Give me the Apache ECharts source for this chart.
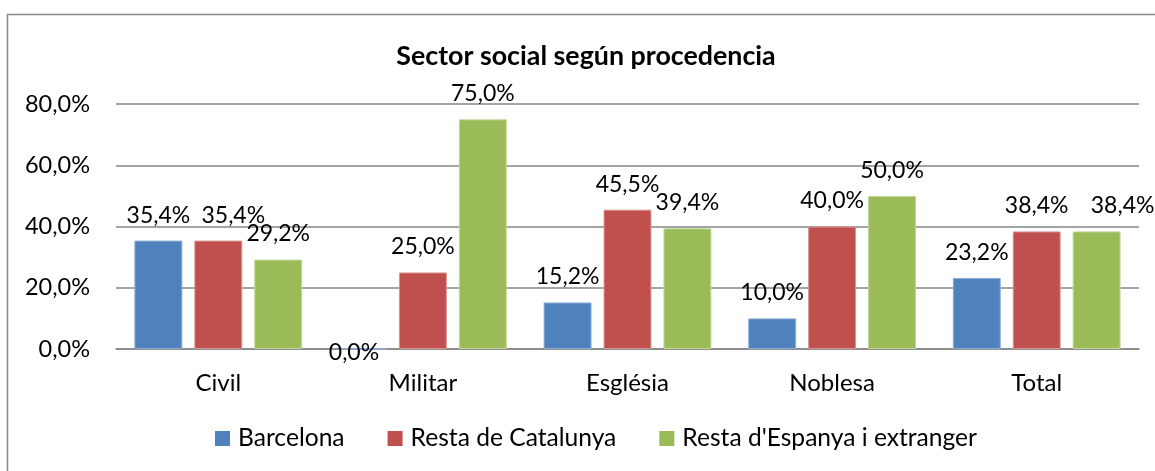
<!DOCTYPE html>
<html>
<head>
<meta charset="utf-8">
<script src="https://cdn.jsdelivr.net/npm/echarts@6/dist/echarts.min.js"></script>
<style>html,body{margin:0;padding:0;background:#fff}#c{width:1155px;height:471px}</style>
</head>
<body>
<div id="c"></div>
<script>
const categories = ['Civil', 'Militar', 'Església', 'Noblesa', 'Total'];
const seriesNames = ['Barcelona', 'Resta de Catalunya', "Resta d'Espanya i extranger"];
const barcelona = [35.4, 0.0, 15.2, 10.0, 23.2];
const restaCatalunya = [35.4, 25.0, 45.5, 40.0, 38.4];
const restaEspanya = [29.2, 75.0, 39.4, 50.0, 38.4];
const yTicks = [0, 20, 40, 60, 80];
const titleText = 'Sector social según procedencia';

const colors = ['#4F81BD', '#C0504D', '#9BBB59'];
const borders = ['#8FADD6', '#D99694', '#C3D69B'];
const FONT = 'Lato';
const fmt = v => v.toFixed(1).replace('.', ',') + '%';

// manual label nudges (as in the reference layout)
const labelOffsets = {
  '0-1': [-9, 30],
  '1-0': [15, 0],
  '2-4': [26, 0]
};

const allSeries = [barcelona, restaCatalunya, restaEspanya];
const series = allSeries.map((vals, si) => ({
  name: seriesNames[si],
  type: 'bar',
  barGap: '25%',
  barCategoryGap: '18%',
  itemStyle: { color: colors[si], borderColor: borders[si], borderWidth: 1 },
  label: {
    show: true, position: 'top', distance: 14,
    fontFamily: FONT, fontSize: 23, color: '#000',
    formatter: p => fmt(p.value)
  },
  data: vals.map((v, ci) => {
    const off = labelOffsets[si + '-' + ci];
    return off ? { value: v, label: { offset: off } } : v;
  })
}));

const chart = echarts.init(document.getElementById('c'), null, { renderer: 'canvas' });
chart.setOption({
  animation: false,
  backgroundColor: '#fff',
  color: colors,
  title: {
    text: titleText, left: 581, top: 38, textAlign: 'center',
    textStyle: { fontFamily: FONT, fontSize: 26.8, fontWeight: 'bold', color: '#000' }
  },
  grid: { left: 116, right: 16, top: 104, bottom: 122 },
  legend: {
    bottom: 15, left: 210,
    icon: 'rect', itemWidth: 15, itemHeight: 15, itemGap: 43,
    itemStyle: { borderWidth: 0 },
    textStyle: { fontFamily: FONT, fontSize: 24.6, color: '#000', padding: [0, 0, 0, 3] },
    data: seriesNames
  },
  xAxis: {
    type: 'category', data: categories,
    axisLine: { lineStyle: { color: '#868686', width: 1.5 } },
    axisTick: { show: false },
    axisLabel: { fontFamily: FONT, fontSize: 24, color: '#000', margin: 22 }
  },
  yAxis: {
    type: 'value', min: yTicks[0], max: yTicks[yTicks.length - 1], interval: yTicks[1] - yTicks[0],
    axisLine: { show: false }, axisTick: { show: false },
    splitLine: { lineStyle: { color: '#868686', width: 1.5 } },
    axisLabel: { fontFamily: FONT, fontSize: 23.5, color: '#000', margin: 26, formatter: v => fmt(v) }
  },
  graphic: [{
    type: 'rect', silent: true, z: -1,
    shape: { x: 7.5, y: 14.5, width: 1300, height: 600 },
    style: { fill: null, stroke: '#8a8a8a', lineWidth: 1.5 }
  }],
  series: series
});
</script>
</body>
</html>
